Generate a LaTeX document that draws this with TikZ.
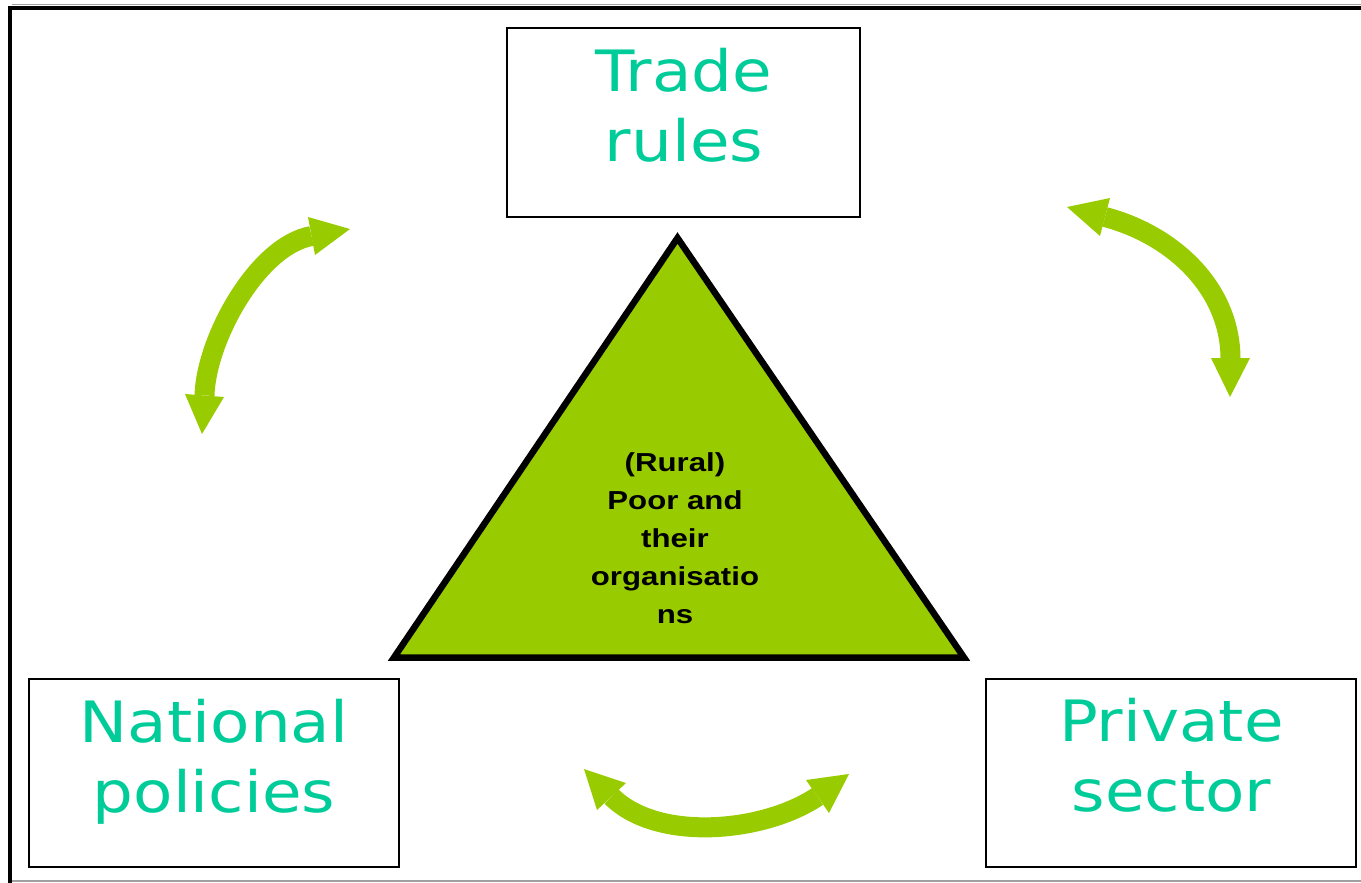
\documentclass[tikz,border=0pt]{standalone}
\usepackage{fontspec}
\newfontfamily\boxfont[FakeStretch=1.13]{DejaVu Sans}
\newfontfamily\trifont[FakeStretch=1.2]{Liberation Sans}
\definecolor{agreen}{HTML}{99CC00}
\definecolor{tealtext}{HTML}{00CC99}
\definecolor{framegray}{HTML}{A0A0A0}
\begin{document}
\begin{tikzpicture}[x=1pt,y=-1pt,
  box/.style={draw=black, line width=1.8pt, rectangle, inner sep=0pt},
  boxtext/.style={text=tealtext, font=\boxfont\fontsize{57}{70}\selectfont, align=center, inner sep=0pt},
  tritext/.style={text=black, font=\trifont\bfseries\fontsize{26}{38}\selectfont, align=center, inner sep=0pt},
  greenshaft/.style={draw=agreen, line width=20pt},
  greenhead/.style={fill=agreen, draw=none}]
\useasboundingbox (0,0) rectangle (1361,883);
% frame
\draw[framegray, line width=1pt] (12,5) -- (1361,5);
\draw[framegray, line width=1.5pt] (12,881) -- (1361,881);
\draw[black, line width=4pt] (1361,7.7) -- (10,7.7) -- (10,883);
% boxes
\node[box, minimum width=353pt, minimum height=189pt] (trade) at (683.5,122.5) {};
\node[box, minimum width=370pt, minimum height=188pt] (national) at (214,773) {};
\node[box, minimum width=370pt, minimum height=188pt] (private) at (1171,773) {};
\node[boxtext] (tradetxt) at (684,105.4) {Trade\\rules};
\node[boxtext] (nattxt) at (214,762) {National\\policies};
\node[boxtext] (privtxt) at (1171.5,755.5) {Private\\sector};
% triangle
\draw[line width=6.5pt, fill=agreen, line join=miter] (677.5,238) -- (394,657.5) -- (964,657.5) -- cycle;
\node[tritext] (poor) at (675,538) {(Rural)\\Poor and\\their\\organisatio\\ns};
% arrow ends (shaft ends at head bases)
\coordinate (la) at (204.5,395.5);
\coordinate (lb) at (311.5,236);
\coordinate (ra) at (1105,217);
\coordinate (rb) at (1230.5,358);
\coordinate (ba) at (611.5,796.5);
\coordinate (bb) at (817.5,796.5);
% shafts
\draw[greenshaft] (la) .. controls (206,340) and (257,246) .. (lb);
\draw[greenshaft] (ra) .. controls (1173,235) and (1230,288) .. (rb);
\draw[greenshaft] (ba) .. controls (657,842) and (763,833) .. (bb);
% heads
\fill[greenhead] (202,434) -- (185,394) -- (224,397) -- cycle;
\fill[greenhead] (350,229) -- (308,217) -- (315,255) -- cycle;
\fill[greenhead] (1067,207) -- (1110,198) -- (1100,236) -- cycle;
\fill[greenhead] (1230,397) -- (1211,358) -- (1250,358) -- cycle;
\fill[greenhead] (584,769) -- (597,810) -- (626,783) -- cycle;
\fill[greenhead] (849,774) -- (806,780) -- (829,813) -- cycle;
\end{tikzpicture}
\end{document}
